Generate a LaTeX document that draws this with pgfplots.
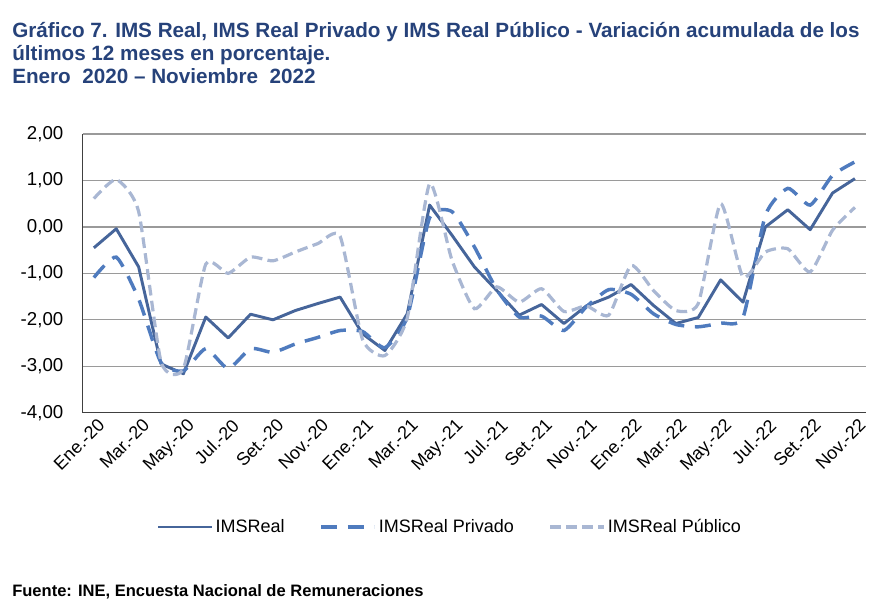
\documentclass[border=0pt]{standalone}
\usepackage{fontspec}
\setmainfont{Liberation Sans}
\usepackage{pgfplots}
\pgfplotsset{compat=1.18}
\definecolor{titleblue}{HTML}{26427A}
\definecolor{creal}{HTML}{46659A}
\definecolor{cpriv}{HTML}{4F7BBE}
\definecolor{cpub}{HTML}{A9B7D3}
\definecolor{cgrid}{HTML}{9A9A9A}
\begin{document}
\begin{tikzpicture}[x=1pt,y=1pt]
\begin{axis}[
  name=ax,
  scale only axis, width=587.5pt, height=209pt,
  xmin=-0.5, xmax=34.5, ymin=-4, ymax=2,
  axis x line*=bottom, axis y line*=left,
  axis line style={draw=black!75, line width=0.9pt, -},
  ytick={-4,-3,-2,-1,0,1,2},
  ymajorgrids, grid style={cgrid, line width=0.9pt},
  major tick length=0pt,
  xtick={0,2,...,34},
  xticklabels={Ene.-20,Mar.-20,May.-20,Jul.-20,Set.-20,Nov.-20,Ene.-21,Mar.-21,May.-21,Jul.-21,Set.-21,Nov.-21,Ene.-22,Mar.-22,May.-22,Jul.-22,Set.-22,Nov.-22},
  xticklabel style={rotate=45, anchor=north east, inner sep=1pt, yshift=-3pt, font=\fontsize{13.5}{15}\selectfont},
  yticklabel style={font=\fontsize{14}{16}\selectfont, xshift=-11pt},
  /pgf/number format/.cd, fixed, fixed zerofill, precision=2, use comma, assume math mode=true,
  /pgfplots/.cd,
  legend style={at={(0.469,-0.41)}, anchor=center, draw=none, font=\fontsize{13.5}{15}\selectfont,
    /tikz/every even column/.append style={column sep=24pt}},
  legend columns=3,
  legend image code/.code={\draw[#1] (0pt,0pt) -- (40pt,0pt);},
  clip=false,
]
\addplot[creal, line width=2.2pt, line join=round] coordinates {
(0,-0.45)(1,-0.04)(2,-0.86)(3,-2.95)(4,-3.16)(5,-1.94)(6,-2.39)(7,-1.88)(8,-2.00)(9,-1.80)
(10,-1.65)(11,-1.51)(12,-2.30)(13,-2.66)(14,-1.87)(15,0.47)(16,-0.18)(17,-0.86)(18,-1.37)(19,-1.90)
(20,-1.67)(21,-2.08)(22,-1.70)(23,-1.51)(24,-1.24)(25,-1.69)(26,-2.08)(27,-1.95)(28,-1.14)(29,-1.62)
(30,0.00)(31,0.37)(32,-0.06)(33,0.73)(34,1.04)};
\addlegendentry{IMSReal}
\addplot[cpriv, line width=2.6pt, dash pattern=on 12pt off 8pt, smooth, tension=0.35] coordinates {
(0,-1.09)(1,-0.65)(2,-1.55)(3,-2.92)(4,-3.10)(5,-2.62)(6,-3.05)(7,-2.62)(8,-2.70)(9,-2.52)
(10,-2.38)(11,-2.23)(12,-2.25)(13,-2.60)(14,-1.94)(15,0.20)(16,0.33)(17,-0.43)(18,-1.35)(19,-1.94)
(20,-1.92)(21,-2.23)(22,-1.72)(23,-1.35)(24,-1.45)(25,-1.87)(26,-2.10)(27,-2.15)(28,-2.07)(29,-1.95)
(30,0.25)(31,0.83)(32,0.47)(33,1.11)(34,1.40)};
\addlegendentry{IMSReal Privado}
\addplot[cpub, line width=2.4pt, dash pattern=on 8pt off 4pt, smooth, tension=0.35] coordinates {
(0,0.61)(1,1.02)(2,0.33)(3,-2.90)(4,-3.05)(5,-0.80)(6,-1.00)(7,-0.65)(8,-0.73)(9,-0.54)
(10,-0.36)(11,-0.20)(12,-2.42)(13,-2.77)(14,-1.96)(15,0.93)(16,-0.72)(17,-1.76)(18,-1.29)(19,-1.62)
(20,-1.33)(21,-1.82)(22,-1.70)(23,-1.90)(24,-0.83)(25,-1.37)(26,-1.80)(27,-1.65)(28,0.50)(29,-1.08)
(30,-0.54)(31,-0.47)(32,-0.97)(33,-0.07)(34,0.42)};
\addlegendentry{IMSReal Público}
\coordinate (bl) at (rel axis cs:0,0);
\end{axis}
\begin{scope}[shift={(bl)}]
\node[anchor=base west, inner sep=0pt, text=titleblue, font=\bfseries\fontsize{15.5}{17}\selectfont] at (-53,281.25)
  {Gráfico 7. IMS Real, IMS Real Privado y IMS Real Público - Variación acumulada de los};
\node[anchor=base west, inner sep=0pt, text=titleblue, font=\bfseries\fontsize{15.5}{17}\selectfont] at (-53,264)
  {últimos 12 meses en porcentaje.};
\node[anchor=base west, inner sep=0pt, text=titleblue, font=\bfseries\fontsize{15.5}{17}\selectfont] at (-53,246.75)
  {Enero\ \ 2020 – Noviembre\ \ 2022};
\node[anchor=base west, inner sep=0pt, font=\bfseries\fontsize{12.4}{14}\selectfont] at (-53,-137.5)
  {Fuente: INE, Encuesta Nacional de Remuneraciones};
\useasboundingbox (-62,-151) rectangle (598.65,309.5);
\end{scope}
\end{tikzpicture}
\end{document}
